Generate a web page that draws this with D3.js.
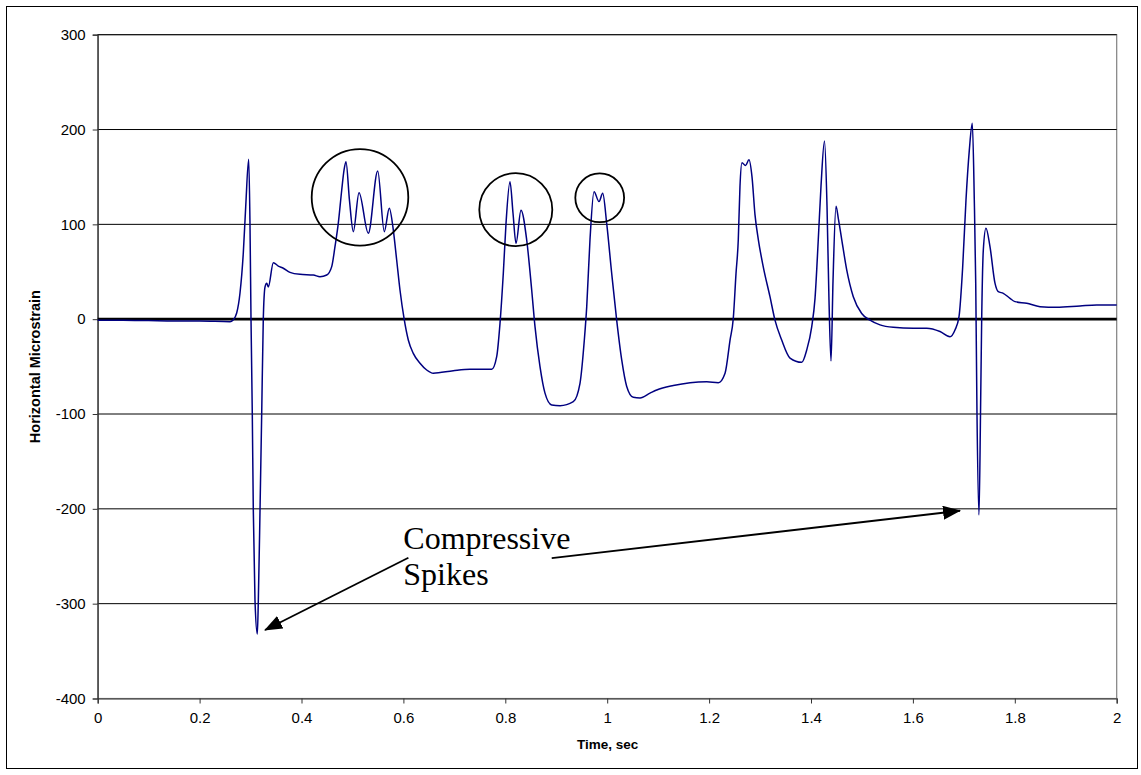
<!DOCTYPE html>
<html>
<head>
<meta charset="utf-8">
<script src="https://cdn.jsdelivr.net/npm/d3@7"></script>
<style>
  html, body { margin: 0; padding: 0; background: #fff; }
  svg { display: block; }
</style>
</head>
<body>
<svg id="chart" width="1141" height="775"></svg>
<script>
// ---- Data ----
const timeSec = [
  0, 0.05, 0.1, 0.15, 0.2, 0.2597, 0.2655, 0.2728, 0.2793, 0.2858, 0.2905, 0.2964, 0.2989, 0.3009,
  0.3034, 0.3054, 0.3087, 0.3133, 0.3153, 0.3186, 0.3219, 0.3250, 0.3284, 0.3317, 0.3348, 0.3447,
  0.3545, 0.3643, 0.3774, 0.3971, 0.4232, 0.4363, 0.4495, 0.4593, 0.4657, 0.4722, 0.4789, 0.4834,
  0.4873, 0.4942, 0.5017, 0.5129, 0.5311, 0.5496, 0.5625, 0.5723, 0.5802, 0.5868, 0.5933, 0.6012,
  0.6096, 0.6194, 0.6326, 0.6457, 0.6587, 0.6979, 0.7307, 0.7733, 0.7831, 0.7896, 0.7961, 0.8014,
  0.8092, 0.8151, 0.8210, 0.8308, 0.8420, 0.8518, 0.8583, 0.8681, 0.8779, 0.8911, 0.9074, 0.9335,
  0.9466, 0.9551, 0.9598, 0.9662, 0.9741, 0.9839, 0.9912, 0.9990, 1.0088, 1.0186, 1.0285, 1.0383,
  1.0512, 1.0644, 1.0840, 1.0972, 1.1297, 1.1627, 1.1953, 1.2181, 1.2313, 1.2411, 1.2475, 1.2528,
  1.2573, 1.2606, 1.2645, 1.2714, 1.2783, 1.2842, 1.2901, 1.2966, 1.3064, 1.3195, 1.3293, 1.3425,
  1.3588, 1.3818, 1.3916, 1.4014, 1.4079, 1.4143, 1.4196, 1.4265, 1.4314, 1.4353, 1.4393, 1.4432,
  1.4491, 1.4540, 1.4603, 1.4701, 1.4830, 1.4995, 1.5158, 1.5354, 1.5615, 1.6008, 1.6271, 1.6532,
  1.6728, 1.6826, 1.6905, 1.6977, 1.7042, 1.7107, 1.7166, 1.7205, 1.7233, 1.7258, 1.7297, 1.7327,
  1.7350, 1.7382, 1.7434, 1.7513, 1.7611, 1.7676, 1.7774, 1.7906, 1.8004, 1.8234, 1.8495, 1.8822,
  1.9280, 1.9607, 2.0
];
const microstrain = [
  -1, -1, -1.5, -2, -2, -2.6, -1, 6.5, 27.6, 70, 118.7, 168.6, 100, 0,
  -99, -201, -296, -332, -296, -201, -99, 0, 34, 38, 34, 59.6,
  56, 53.7, 49.4, 47.3, 46.6, 44.8, 46.6, 55.4, 76.5, 101, 136, 157,
  166, 125, 92.3, 133.4, 90.6, 156.3, 92.3, 117, 94, 62.4, 30.8, 1,
  -22, -36, -46.5, -53.6, -57, -54.3, -52.8, -52.8, -39.5, -4.4, 48.4, 101,
  145, 112, 80, 115, 83.5, 30.8, -7.9, -50, -78, -90.5, -91.2, -87,
  -67.6, -22, 13, 83.5, 134.5, 124, 132.7, 101, 48.4, -1, -43, -71,
  -82.4, -83, -78, -74.7, -70, -67, -66, -67, -57, -22, 1, 48,
  84, 140, 165, 162, 168, 150, 110, 84, 55, 23.7, -1, -22,
  -41, -45.5, -32.5, -8, 22, 84, 140, 188, 120, 20, -44, 40,
  119, 105, 84, 52, 23.7, 6, -1, -6, -8.6, -9.6, -9.5, -13,
  -18.5, -11.4, 2.6, 55, 125.7, 178, 206.6, 126, 38, -100, -206.5, -100,
  0, 73, 96, 76.5, 38, 29, 27.3, 22, 18.5, 16.8, 13.2, 12.5,
  14, 15, 15
];
const xTicks = [0, 0.2, 0.4, 0.6, 0.8, 1, 1.2, 1.4, 1.6, 1.8, 2];
const yTicks = [-400, -300, -200, -100, 0, 100, 200, 300];
const xTitle = "Time, sec";
const yTitle = "Horizontal Microstrain";

// Annotations (data coordinates)
const circleCenters = [[0.5148, 128.5], [0.8206, 115.5], [0.9853, 128]];
const arrowStarts = [[0.6098, -251.6], [0.8911, -252]];
const arrowEnds = [[0.3284, -327.7], [1.6925, -202]];
const noteLines = ["Compressive", "Spikes"];
const noteAnchor = [0.5998, -242.6];

// ---- Layout ----
const svg = d3.select("#chart");
const pL = 97.7, pR = 1116.7, pT = 34.7, pB = 698.5;

const x = d3.scaleLinear().domain([0, 2]).range([pL, pR]);
const y = d3.scaleLinear().domain([-400, 300]).range([pB, pT]);

// outer border
svg.append("rect")
  .attr("x", 6.5).attr("y", 6.5).attr("width", 1131).attr("height", 762)
  .attr("fill", "#fff").attr("stroke", "#000").attr("stroke-width", 1);

// plot area border
svg.append("rect")
  .attr("x", pL).attr("y", pT).attr("width", pR - pL).attr("height", pB - pT)
  .attr("fill", "none").attr("stroke", "#808080").attr("stroke-width", 1.2);

// gridlines
svg.append("g").selectAll("line")
  .data(yTicks.filter(d => d !== 0 && d !== -400))
  .join("line")
  .attr("x1", pL).attr("x2", pR)
  .attr("y1", d => y(d)).attr("y2", d => y(d))
  .attr("stroke", "#000").attr("stroke-width", 1);

// y axis
const yAxis = svg.append("g")
  .attr("transform", `translate(${pL},0)`)
  .call(d3.axisLeft(y).tickValues(yTicks).tickSize(5).tickPadding(7).tickFormat(d => String(d)));
yAxis.select(".domain").attr("stroke", "#333").attr("stroke-width", 1.2);
yAxis.selectAll(".tick line").attr("stroke", "#333");
yAxis.selectAll("text").attr("font-family", "Arial, 'Liberation Sans', sans-serif")
  .attr("font-size", 15).attr("fill", "#000");

// x axis
const xAxis = svg.append("g")
  .attr("transform", `translate(0,${pB})`)
  .call(d3.axisBottom(x).tickValues(xTicks).tickSize(5).tickPadding(9).tickFormat(d => String(d)));
xAxis.select(".domain").attr("stroke", "#333").attr("stroke-width", 1.2);
xAxis.selectAll(".tick line").attr("stroke", "#333");
xAxis.selectAll("text").attr("font-family", "Arial, 'Liberation Sans', sans-serif")
  .attr("font-size", 15).attr("fill", "#000");

// zero line (thick)
svg.append("line")
  .attr("x1", x(0)).attr("x2", x(2))
  .attr("y1", y(0)).attr("y2", y(0))
  .attr("stroke", "#000").attr("stroke-width", 2.8);

// data line
const line = d3.line()
  .x((d, i) => x(timeSec[i]))
  .y(d => y(d))
  .curve(d3.curveMonotoneX);
svg.append("path")
  .datum(microstrain)
  .attr("d", line)
  .attr("fill", "none")
  .attr("stroke", "#000080")
  .attr("stroke-width", 1.5)
  .attr("stroke-linejoin", "round");

// axis titles
svg.append("text")
  .attr("x", (pL + pR) / 2 + 0.5).attr("y", 749)
  .attr("text-anchor", "middle")
  .attr("font-family", "Arial, 'Liberation Sans', sans-serif")
  .attr("font-weight", "bold").attr("font-size", 13.5)
  .text(xTitle);
svg.append("text")
  .attr("transform", `translate(40,${(pT + pB) / 2}) rotate(-90)`)
  .attr("text-anchor", "middle")
  .attr("font-family", "Arial, 'Liberation Sans', sans-serif")
  .attr("font-weight", "bold").attr("font-size", 14.5)
  .text(yTitle);

// circles
const radii = [48.3, 36.5, 24.4];
svg.append("g").selectAll("circle")
  .data(circleCenters)
  .join("circle")
  .attr("cx", d => x(d[0])).attr("cy", d => y(d[1]))
  .attr("r", (d, i) => radii[i])
  .attr("fill", "none").attr("stroke", "#000").attr("stroke-width", 1.8);

// arrowhead marker
svg.append("defs").append("marker")
  .attr("id", "arrow")
  .attr("markerUnits", "userSpaceOnUse")
  .attr("markerWidth", 18).attr("markerHeight", 14)
  .attr("refX", 17).attr("refY", 7)
  .attr("orient", "auto")
  .append("path")
  .attr("d", "M0,0 L18,7 L0,14 Z")
  .attr("fill", "#000");

svg.append("g").selectAll("line")
  .data(arrowStarts)
  .join("line")
  .attr("x1", d => x(d[0])).attr("y1", d => y(d[1]))
  .attr("x2", (d, i) => x(arrowEnds[i][0])).attr("y2", (d, i) => y(arrowEnds[i][1]))
  .attr("stroke", "#000").attr("stroke-width", 1.8)
  .attr("marker-end", "url(#arrow)");

// note text
svg.append("g").selectAll("text")
  .data(noteLines)
  .join("text")
  .attr("x", x(noteAnchor[0]))
  .attr("y", (d, i) => y(noteAnchor[1]) + i * 36)
  .attr("font-family", "'Times New Roman', 'Liberation Serif', serif")
  .attr("font-size", 32)
  .attr("fill", "#000")
  .text(d => d);
</script>
</body>
</html>
